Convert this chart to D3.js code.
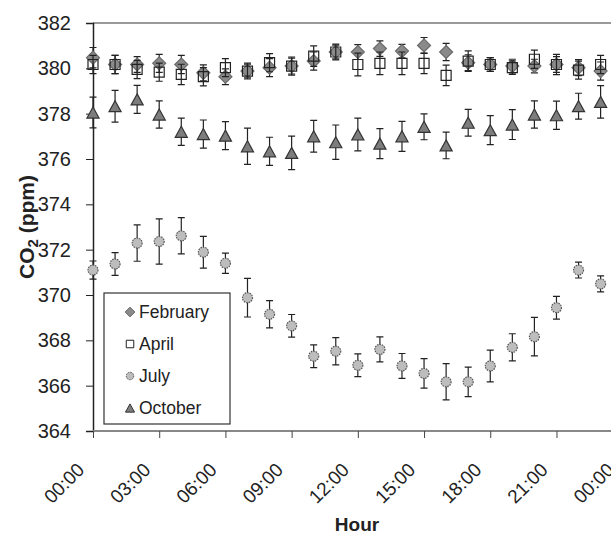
<!DOCTYPE html>
<html>
<head>
<meta charset="utf-8">
<style>
  body { margin: 0; background: #fff; }
  svg { display: block; font-family: 'Liberation Sans', Arial, sans-serif; }
</style>
</head>
<body>
<svg id="svg"></svg>
<script src="https://d3js.org/d3.v7.min.js"></script>
<script>

// hourly means and error bars, hour 0..23
const hours = d3.range(0, 24);
const yTicks = [364, 366, 368, 370, 372, 374, 376, 378, 380, 382];
const xTicks = [0, 3, 6, 9, 12, 15, 18, 21, 24];
const xTickLabels = ["00:00", "03:00", "06:00", "09:00", "12:00", "15:00", "18:00", "21:00", "00:00"];

const febValues = [380.47, 380.17, 380.17, 380.22, 380.17, 379.8, 379.63, 379.88, 380.03, 380.1, 380.32, 380.72,
                   380.72, 380.87, 380.76, 381.01, 380.72, 380.25, 380.17, 380.1, 380.1, 380.17, 380.03, 379.88];
const febErr = [0.45, 0.4, 0.35, 0.4, 0.4, 0.35, 0.35, 0.3, 0.4, 0.35, 0.4, 0.3,
                0.33, 0.34, 0.3, 0.35, 0.38, 0.35, 0.3, 0.3, 0.3, 0.35, 0.35, 0.4];

const aprValues = [380.17, 380.17, 379.95, 379.83, 379.73, 379.63, 380.03, 379.88, 380.25, 380.1, 380.54, 380.72,
                   380.17, 380.22, 380.22, 380.22, 379.69, 380.32, 380.17, 380.03, 380.4, 380.17, 379.92, 380.17];
const aprErr = [0.4, 0.4, 0.4, 0.4, 0.45, 0.4, 0.4, 0.35, 0.4, 0.4, 0.45, 0.35,
                0.5, 0.5, 0.5, 0.45, 0.45, 0.45, 0.3, 0.3, 0.4, 0.45, 0.4, 0.4];

const julValues = [371.1, 371.37, 372.29, 372.36, 372.61, 371.89, 371.4, 369.88, 369.15, 368.64, 367.3, 367.52,
                   366.9, 367.6, 366.87, 366.54, 366.17, 366.17, 366.87, 367.69, 368.16, 369.44, 371.1, 370.49];
const julErr = [0.4, 0.5, 0.8, 1.0, 0.8, 0.7, 0.45, 0.85, 0.6, 0.5, 0.5, 0.6,
                0.5, 0.55, 0.55, 0.65, 0.8, 0.65, 0.7, 0.6, 0.85, 0.5, 0.35, 0.35];

const octValues = [378.05, 378.33, 378.63, 377.96, 377.2, 377.1, 377.03, 376.56, 376.34, 376.27, 377.0, 376.74,
                   377.08, 376.68, 377.0, 377.42, 376.6, 377.6, 377.27, 377.52, 377.96, 377.93, 378.33, 378.52];
const octErr = [0.68, 0.7, 0.62, 0.6, 0.6, 0.62, 0.62, 0.8, 0.62, 0.74, 0.7, 0.76,
                0.72, 0.66, 0.66, 0.57, 0.59, 0.59, 0.64, 0.66, 0.6, 0.62, 0.57, 0.72];

const width = 611;
const height = 534;
const plotLeft = 93, plotTop = 23, plotBottom = 431;

const svg = d3.select("#svg")
    .attr("width", width)
    .attr("height", height);

const xScale = d3.scaleLinear().domain([0, 24]).range([plotLeft, plotLeft + 24 * 22.07]);
const yScale = d3.scaleLinear().domain([364, 382]).range([plotBottom, plotTop]);

// marker shapes
function diamond(r) { return `M0,${-r}L${r},0L0,${r}L${-r},0Z`; }
function square(r) { return `M${-r},${-r}H${r}V${r}H${-r}Z`; }
function circle(r) { return `M${r},0A${r},${r} 0 1,1 ${-r},0A${r},${r} 0 1,1 ${r},0Z`; }
function triangle(r) { return `M0,${-r}L${r * 1.1},${r}L${-r * 1.1},${r}Z`; }

const series = [
  { name: "February", values: febValues, err: febErr, shape: diamond, size: 6.5, fill: "#8a8a8a", stroke: "#6a6a6a", dash: null },
  { name: "April", values: aprValues, err: aprErr, shape: square, size: 5, fill: "none", stroke: "#222", dash: null },
  { name: "July", values: julValues, err: julErr, shape: circle, size: 5, fill: "#bdbdbd", stroke: "#555", dash: "1.5,1" },
  { name: "October", values: octValues, err: octErr, shape: triangle, size: 5.5, fill: "#7d7d7d", stroke: "#333", dash: null }
];

// frame lines
svg.append("line")
    .attr("x1", plotLeft).attr("x2", width)
    .attr("y1", plotTop).attr("y2", plotTop)
    .attr("stroke", "#999").attr("stroke-width", 2);

// y axis
const yAxis = svg.append("g")
    .attr("transform", `translate(${plotLeft},0)`)
    .call(d3.axisLeft(yScale).tickValues(yTicks).tickSize(7).tickPadding(15).tickFormat(d3.format("d")));
yAxis.select(".domain").attr("stroke", "#222").attr("stroke-width", 1.5);
yAxis.selectAll(".tick line").attr("stroke", "#222");
yAxis.selectAll("text")
    .attr("font-size", 20)
    .attr("fill", "#222")
    .attr("font-family", "'Liberation Sans', Arial, sans-serif");

// x axis
const xAxis = svg.append("g")
    .attr("transform", `translate(0,${plotBottom})`)
    .call(d3.axisBottom(xScale).tickValues(xTicks).tickSize(7)
        .tickFormat(function(d, i) { return xTickLabels[i]; }));
xAxis.select(".domain").attr("stroke", "#888").attr("stroke-width", 2).attr("d", `M${plotLeft},0H${width}`);
xAxis.selectAll(".tick line").attr("stroke", "#444");
xAxis.selectAll("text")
    .attr("font-size", 19)
    .attr("fill", "#222")
    .attr("font-family", "'Liberation Sans', Arial, sans-serif")
    .attr("text-anchor", "end")
    .attr("dy", null)
    .attr("y", 0)
    .attr("transform", "translate(-8,40) rotate(-45)");

// axis titles
const yTitle = svg.append("text")
    .attr("transform", "translate(34,227) rotate(-90)")
    .attr("text-anchor", "middle")
    .attr("font-size", 21)
    .attr("font-weight", "bold")
    .attr("fill", "#222");
yTitle.append("tspan").text("CO");
yTitle.append("tspan").attr("font-size", 15).attr("dy", 4).text("2");
yTitle.append("tspan").attr("dy", -4).text(" (ppm)");

svg.append("text")
    .attr("x", 357).attr("y", 531)
    .attr("text-anchor", "middle")
    .attr("font-size", 19)
    .attr("font-weight", "bold")
    .attr("fill", "#222")
    .text("Hour");

// error bars and markers
const plot = svg.append("g");
series.forEach(function(s) {
  const g = plot.append("g");
  g.selectAll(".err")
      .data(hours)
      .enter().append("path")
      .attr("fill", "none")
      .attr("stroke", "#222")
      .attr("stroke-width", 1.2)
      .attr("d", function(h) {
        const x = xScale(h);
        const y1 = yScale(s.values[h] + s.err[h]);
        const y2 = yScale(s.values[h] - s.err[h]);
        return `M${x - 3.5},${y1}H${x + 3.5}M${x},${y1}V${y2}M${x - 3.5},${y2}H${x + 3.5}`;
      });
  g.selectAll(".pt")
      .data(hours)
      .enter().append("path")
      .attr("transform", function(h) { return `translate(${xScale(h)},${yScale(s.values[h])})`; })
      .attr("d", s.shape(s.size))
      .attr("fill", s.fill)
      .attr("stroke", s.stroke)
      .attr("stroke-width", 1.2)
      .attr("stroke-dasharray", s.dash);
});

// legend
const legend = svg.append("g");
legend.append("rect")
    .attr("x", 104).attr("y", 293)
    .attr("width", 126).attr("height", 131)
    .attr("fill", "#fff")
    .attr("stroke", "#333")
    .attr("stroke-width", 1.2);

series.forEach(function(s, i) {
  const cy = 312 + i * 32;
  legend.append("path")
      .attr("transform", `translate(130,${cy})`)
      .attr("d", s.shape(s.size * 0.75))
      .attr("fill", s.fill === "none" ? "#fff" : s.fill)
      .attr("stroke", s.stroke)
      .attr("stroke-width", 1)
      .attr("stroke-dasharray", s.dash);
  legend.append("text")
      .attr("x", 139).attr("y", cy + 6)
      .attr("font-size", 17.5)
      .attr("fill", "#222")
      .text(s.name);
});

</script>
</body>
</html>
